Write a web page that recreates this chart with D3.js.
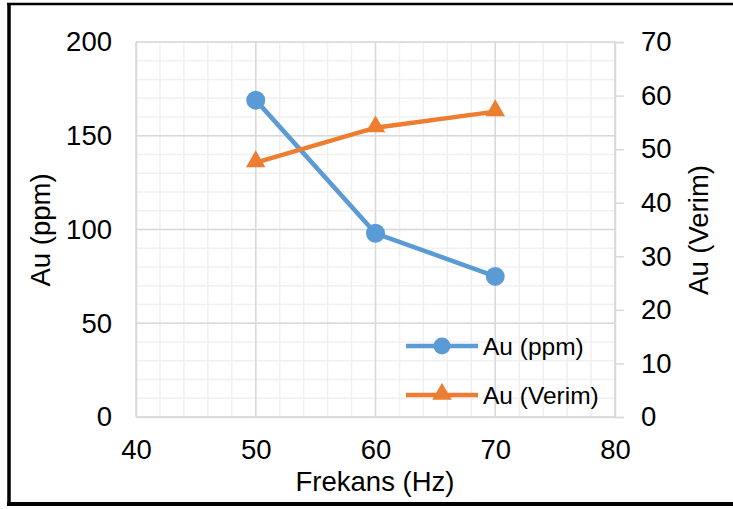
<!DOCTYPE html>
<html>
<head>
<meta charset="utf-8">
<script src="https://cdn.jsdelivr.net/npm/d3@7"></script>
<style>
  body { margin: 0; background: #fff; }
  svg { display: block; font-family: "Liberation Sans", Arial, sans-serif; }
</style>
</head>
<body>
<div id="chart"></div>
<script>
  // data
  var frequencies = [50, 60, 70];
  var auPpm = [169, 98, 75];
  var auVerim = [47.5, 54, 57];
  var seriesNames = ['Au (ppm)', 'Au (Verim)'];
  var xTicks = [40, 50, 60, 70, 80];
  var yLeftTicks = [0, 50, 100, 150, 200];
  var yRightTicks = [0, 10, 20, 30, 40, 50, 60, 70];

  var width = 733, height = 509;
  var margin = { left: 136, right: 118, top: 42, bottom: 92 };
  var plotW = width - margin.left - margin.right;
  var plotH = height - margin.top - margin.bottom;

  var blue = '#5b9bd5', orange = '#ed7d31';
  var fontSize = 27.5;
  var lineWidth = 4.5;

  var svg = d3.select('#chart').append('svg')
    .attr('width', width)
    .attr('height', height);

  // outer frame (no right edge visible in the picture)
  svg.append('line').attr('x1', 7).attr('x2', width).attr('y1', 4).attr('y2', 4)
    .attr('stroke', '#000').attr('stroke-width', 2.5);
  svg.append('line').attr('x1', 9).attr('x2', 9).attr('y1', 3).attr('y2', 506)
    .attr('stroke', '#000').attr('stroke-width', 3.5);
  svg.append('line').attr('x1', 7).attr('x2', width).attr('y1', 504).attr('y2', 504)
    .attr('stroke', '#000').attr('stroke-width', 4);

  var g = svg.append('g')
    .attr('transform', 'translate(' + margin.left + ',' + margin.top + ')');

  var x = d3.scaleLinear().domain([40, 80]).range([0, plotW]);
  var yL = d3.scaleLinear().domain([0, 200]).range([plotH, 0]);
  var yR = d3.scaleLinear().domain([0, 70]).range([plotH, 0]);

  // minor grid
  g.append('g').selectAll('line')
    .data(d3.range(40, 81, 2))
    .enter().append('line')
    .attr('x1', function(d) { return x(d); })
    .attr('x2', function(d) { return x(d); })
    .attr('y1', 0).attr('y2', plotH)
    .attr('stroke', '#f0f0f0').attr('stroke-width', 1.5);

  g.append('g').selectAll('line')
    .data(d3.range(0, 201, 10))
    .enter().append('line')
    .attr('x1', 0).attr('x2', plotW)
    .attr('y1', function(d) { return yL(d); })
    .attr('y2', function(d) { return yL(d); })
    .attr('stroke', '#f0f0f0').attr('stroke-width', 1.5);

  // major grid
  g.append('g').selectAll('line')
    .data(xTicks)
    .enter().append('line')
    .attr('x1', function(d) { return x(d); })
    .attr('x2', function(d) { return x(d); })
    .attr('y1', 0).attr('y2', plotH)
    .attr('stroke', '#d9d9d9').attr('stroke-width', 1.5);

  g.append('g').selectAll('line')
    .data(yLeftTicks)
    .enter().append('line')
    .attr('x1', 0).attr('x2', plotW)
    .attr('y1', function(d) { return yL(d); })
    .attr('y2', function(d) { return yL(d); })
    .attr('stroke', '#d9d9d9').attr('stroke-width', 1.5);

  // axes
  var xAxis = g.append('g')
    .attr('transform', 'translate(0,' + plotH + ')')
    .call(d3.axisBottom(x).tickValues(xTicks).tickSize(0).tickPadding(22));
  var yAxisL = g.append('g')
    .call(d3.axisLeft(yL).tickValues(yLeftTicks).tickSize(0).tickPadding(24));
  var yAxisR = g.append('g')
    .attr('transform', 'translate(' + plotW + ',0)')
    .call(d3.axisRight(yR).tickValues(yRightTicks).tickSize(9).tickPadding(17));

  [xAxis, yAxisL, yAxisR].forEach(function(a) {
    a.select('.domain').attr('stroke', '#d9d9d9').attr('stroke-width', 1.5);
    a.selectAll('.tick line').attr('stroke', '#d9d9d9').attr('stroke-width', 1.5);
    a.selectAll('text')
      .attr('font-size', fontSize)
      .attr('font-family', '"Liberation Sans", Arial, sans-serif')
      .attr('fill', '#000');
  });

  // axis titles
  svg.append('text')
    .attr('transform', 'translate(50,230) rotate(-90)')
    .attr('text-anchor', 'middle')
    .attr('font-size', fontSize)
    .text('Au (ppm)');

  svg.append('text')
    .attr('transform', 'translate(708,230) rotate(-90)')
    .attr('text-anchor', 'middle')
    .attr('font-size', fontSize)
    .text('Au (Verim)');

  svg.append('text')
    .attr('x', 375)
    .attr('y', 491)
    .attr('text-anchor', 'middle')
    .attr('font-size', fontSize)
    .text('Frekans (Hz)');

  // series
  var lineL = d3.line()
    .x(function(d, i) { return x(frequencies[i]); })
    .y(function(d) { return yL(d); });
  var lineR = d3.line()
    .x(function(d, i) { return x(frequencies[i]); })
    .y(function(d) { return yR(d); });

  g.append('path')
    .datum(auPpm)
    .attr('d', lineL)
    .attr('fill', 'none')
    .attr('stroke', blue)
    .attr('stroke-width', lineWidth);

  g.selectAll('circle.ppm')
    .data(auPpm)
    .enter().append('circle')
    .attr('cx', function(d, i) { return x(frequencies[i]); })
    .attr('cy', function(d) { return yL(d); })
    .attr('r', 9.5)
    .attr('fill', blue);

  g.append('path')
    .datum(auVerim)
    .attr('d', lineR)
    .attr('fill', 'none')
    .attr('stroke', orange)
    .attr('stroke-width', lineWidth);

  var tri = d3.symbol().type(d3.symbolTriangle).size(165);
  g.selectAll('path.verim')
    .data(auVerim)
    .enter().append('path')
    .attr('d', tri)
    .attr('transform', function(d, i) {
      return 'translate(' + x(frequencies[i]) + ',' + (yR(d) - 1) + ')';
    })
    .attr('fill', orange);

  // legend
  var legend = svg.append('g').attr('transform', 'translate(406,346)');
  var items = [
    { name: seriesNames[0], color: blue, shape: 'circle' },
    { name: seriesNames[1], color: orange, shape: 'triangle' }
  ];
  items.forEach(function(it, i) {
    var row = legend.append('g').attr('transform', 'translate(0,' + (i * 49) + ')');
    row.append('line')
      .attr('x1', 0).attr('x2', 72)
      .attr('y1', 0).attr('y2', 0)
      .attr('stroke', it.color).attr('stroke-width', lineWidth);
    if (it.shape === 'circle') {
      row.append('circle').attr('cx', 36).attr('cy', 0).attr('r', 8.5).attr('fill', it.color);
    } else {
      row.append('path').attr('d', tri).attr('transform', 'translate(36,-1)').attr('fill', it.color);
    }
    row.append('text')
      .attr('x', 77).attr('y', 9)
      .attr('font-size', 24.5)
      .text(it.name);
  });
</script>
</body>
</html>
